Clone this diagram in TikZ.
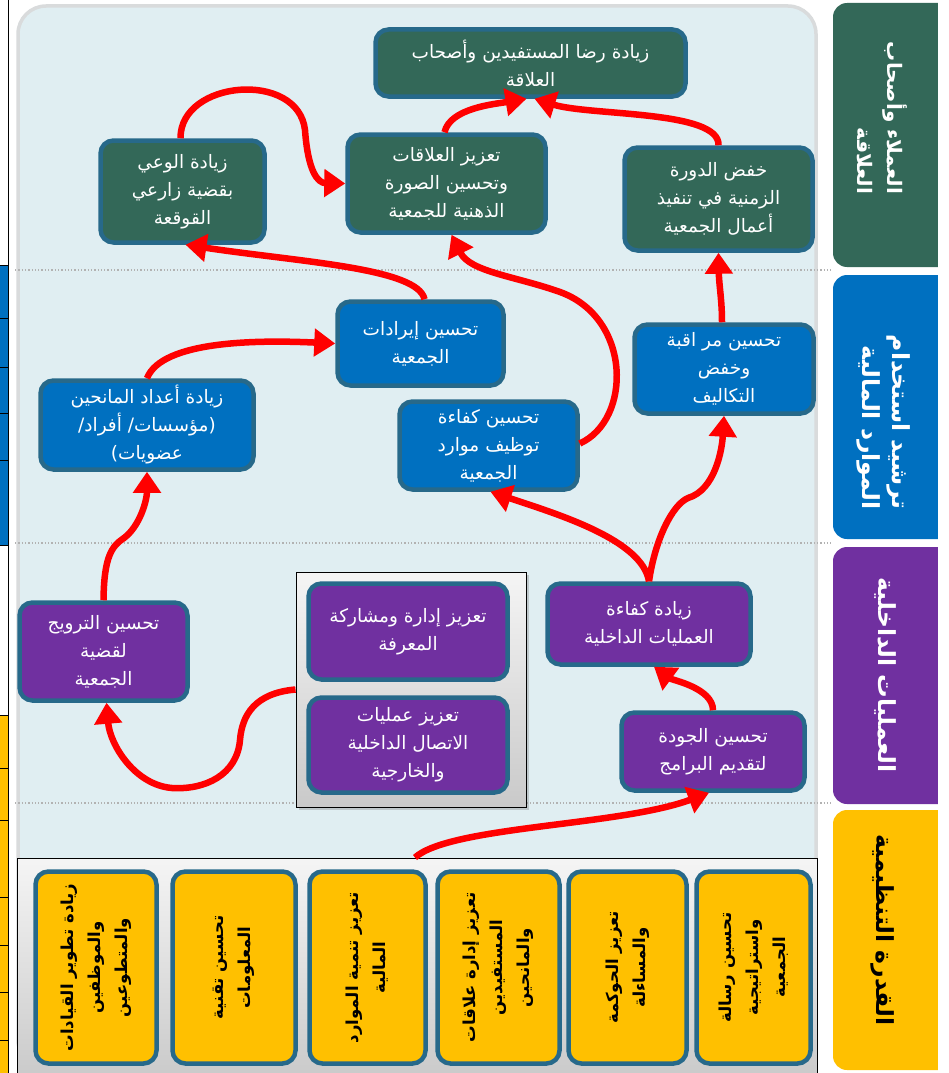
\documentclass[tikz,border=0pt]{standalone}
\usepackage{fontspec}
\usetikzlibrary{arrows.meta,shadows}
\TeXXeTstate=1
\newfontfamily\ar[Script=Arabic]{DejaVu Sans}
\newcommand\AR[1]{\beginR #1\endR}

\definecolor{grn}{RGB}{51,104,88}
\definecolor{blu}{RGB}{0,112,192}
\definecolor{prp}{RGB}{112,48,160}
\definecolor{ylw}{RGB}{255,192,0}
\definecolor{edgec}{RGB}{39,105,138}
\definecolor{panel}{RGB}{224,238,242}
\definecolor{panelb}{RGB}{217,219,220}
\definecolor{flowred}{RGB}{255,0,0}

\begin{document}
\begin{tikzpicture}[x=1pt,y=-1pt,
  tbox/.style={draw=edgec, line width=4.5pt, rounded corners=13pt, text=white,
    align=center, inner sep=2pt, font=\ar\fontsize{18.5}{28}\selectfont},
  gbox/.style={tbox, fill=grn},
  bbox/.style={tbox, fill=blu},
  pbox/.style={tbox, fill=prp},
  ybox/.style={tbox, fill=ylw, text=black, rotate=90,
    font=\ar\bfseries\fontsize{16.5}{27}\selectfont},
  holder/.style={draw=black, line width=1pt, top color=gray!8, bottom color=gray!42, inner sep=0pt},
  flow/.style={draw=flowred, line width=6.5pt, -{Triangle[length=21pt,width=27pt]}},
  bandtxt/.style={text=white, align=right, rotate=-90,
    font=\ar\bfseries\fontsize{23.5}{30}\selectfont},
  sep/.style={draw=gray!60, dotted, line width=1.3pt}]

\useasboundingbox (0,0) rectangle (948,1073);
\fill[white] (0,0) rectangle (948,1073);

% cut-off table on the far left
\draw[black, line width=1pt] (8,0) -- (8,265);
\fill[blu] (0,265) rectangle (8,545);
\fill[ylw] (0,715) rectangle (8,1073);
\draw[black, line width=1pt] (8,265) -- (8,1073);
\foreach \yy in {265,318,367,413,460,545,715,768,820,897,945,992,1040}
  \draw[black, line width=1pt] (0,\yy) -- (8,\yy);

% main panel
\draw[fill=panel, draw=panelb, line width=3.5pt, rounded corners=28pt] (18,6) rectangle (816,1068);

% perspective separators
\draw[sep] (15,270) -- (832,270);
\draw[sep] (15,543) -- (832,543);
\draw[sep] (15,803) -- (832,803);

% perspective bands on the right
\fill[grn, rounded corners=14pt] (833,3) rectangle (960,267);
\fill[blu, rounded corners=14pt] (833,275) rectangle (960,539);
\fill[prp, rounded corners=14pt] (833,547) rectangle (960,804);
\fill[ylw, rounded corners=14pt] (833,810) rectangle (960,1070);
\fill[white] (938,0) rectangle (960,1073);

\node[bandtxt, font=\ar\bfseries\fontsize{20}{30}\selectfont] (t1) at (882,118) {\AR{العملاء وأصحاب}\\\AR{العلاقة}};
\node[bandtxt] (t2) at (884,422) {\AR{ترشيد استخدام}\\\AR{الموارد المالية}};
\node[bandtxt] (t3) at (885,675) {\AR{العمليات الداخلية}};
\node[bandtxt, text=black] (t4) at (883,930) {\AR{القدرة التنظيمية}};

% customers and stakeholders
\node[gbox, minimum width=310pt, minimum height=67pt] (g1) at (530.5,63) {\AR{زيادة رضا المستفيدين وأصحاب}\\\AR{العلاقة}};
\node[gbox, minimum width=164pt, minimum height=102pt] (g2) at (182.5,191.5) {\AR{زيادة الوعي}\\\AR{بقضية زارعي}\\\AR{القوقعة}};
\node[gbox, minimum width=198pt, minimum height=98pt] (g3) at (446.5,183.5) {\AR{تعزيز العلاقات}\\\AR{وتحسين الصورة}\\\AR{الذهنية للجمعية}};
\node[gbox, minimum width=188pt, minimum height=103pt] (g4) at (718.5,199) {\AR{خفض الدورة}\\\AR{الزمنية في تنفيذ}\\\AR{أعمال الجمعية}};

% financial resources
\node[bbox, minimum width=166pt, minimum height=84pt] (b1) at (420.5,343.5) {\AR{تحسين إيرادات}\\\AR{الجمعية}};
\node[bbox, minimum width=213pt, minimum height=89pt] (b2) at (147,425) {\AR{زيادة أعداد المانحين}\\\AR{(مؤسسات/ أفراد/}\\\AR{عضويات)}};
\node[bbox, minimum width=178pt, minimum height=88pt] (b3) at (488.5,445.5) {\AR{تحسين كفاءة}\\\AR{توظيف موارد}\\\AR{الجمعية}};
\node[bbox, minimum width=179pt, minimum height=89pt] (b4) at (724,369) {\AR{تحسين مر اقبة}\\\AR{وخفض}\\\AR{التكاليف}};

% internal processes
\node[holder, drop shadow={opacity=0.35, shadow xshift=3pt, shadow yshift=-3pt},
  minimum width=230pt, minimum height=235pt] (grp) at (411,689.5) {};
\node[pbox, minimum width=199pt, minimum height=96pt] (k1) at (408,631.5) {\AR{تعزيز إدارة ومشاركة}\\\AR{المعرفة}};
\node[pbox, minimum width=199pt, minimum height=95pt] (k2) at (408,745) {\AR{تعزيز عمليات}\\\AR{الاتصال الداخلية}\\\AR{والخارجية}};
\node[pbox, minimum width=168pt, minimum height=98pt] (pr) at (103.5,651.5) {\AR{تحسين الترويج}\\\AR{لقضية}\\\AR{الجمعية}};
\node[pbox, minimum width=203pt, minimum height=81pt] (p1) at (649,624) {\AR{زيادة كفاءة}\\\AR{العمليات الداخلية}};
\node[pbox, minimum width=183pt, minimum height=78pt] (p2) at (713,751.5) {\AR{تحسين الجودة}\\\AR{لتقديم البرامج}};

% organisational capacity
\node[holder, minimum width=800pt, minimum height=222pt] (base) at (417,969) {};
\node[ybox, minimum width=192pt, minimum height=121pt] (y1) at (96,967.5) {\AR{زيادة تطوير القيادات}\\\AR{والموظفين}\\\AR{والمتطوعين}};
\node[ybox, minimum width=192pt, minimum height=123pt] (y2) at (234,967.5) {\AR{تحسين تقنية}\\\AR{المعلومات}};
\node[ybox, minimum width=192pt, minimum height=116pt] (y3) at (367.5,967.5) {\AR{تعزيز تنمية الموارد}\\\AR{المالية}};
\node[ybox, minimum width=192pt, minimum height=122pt] (y4) at (498.5,967.5) {\AR{تعزيز إدارة علاقات}\\\AR{المستفيدين}\\\AR{والمانحين}};
\node[ybox, minimum width=192pt, minimum height=118pt] (y5) at (627.5,967.5) {\AR{تعزيز الحوكمة}\\\AR{والمساءلة}};
\node[ybox, minimum width=192pt, minimum height=114pt] (y6) at (753.5,967.5) {\AR{تحسين رسالة}\\\AR{واستراتيجية}\\\AR{الجمعية}};

% cause-and-effect links
\draw[flow] ([xshift=-2pt]g2.north) .. controls (180,80) and (298,70) .. (305,130)
  .. controls (308,172) and (318,183) .. (g3.west);
\draw[flow] ([xshift=-2pt]g3.north) .. controls (450,108) and (495,104) .. ([xshift=-4pt]g1.south);
\draw[flow] (g4.north) .. controls (720,110) and (590,116) .. ([xshift=4pt]g1.south);
\draw[flow] ([xshift=-2pt]b4.north) .. controls (722,300) and (719,285) .. (g4.south);
\draw[flow] ([xshift=4pt]b1.north) .. controls (418,268) and (300,262) .. ([xshift=3pt]g2.south);
\draw[flow] ([yshift=2pt]b3.east) .. controls (632,420) and (632,318) .. (560,292)
  .. controls (515,276) and (470,272) .. ([xshift=5pt]g3.south);
\draw[flow] (b2.north) .. controls (162,340) and (260,340) .. (b1.west);
\draw[flow] (pr.north) .. controls (104,556) and (112,546) .. (124,538)
  .. controls (140,526) and (147,500) .. (b2.south);
\draw[flow] (grp.west) .. controls (255,693) and (242,715) .. (240,740)
  .. controls (237,775) and (205,790) .. (172,788)
  .. controls (135,785) and (110,745) .. ([xshift=3pt]pr.south);
\draw[flow] ([xshift=-2pt]base.north) .. controls (450,826) and (620,826) .. ([xshift=-4pt]p2.south);
\draw[flow] (p2.north) .. controls (713,688) and (672,680) .. ([xshift=5pt]p1.south);
\draw[flow] (p1.north) .. controls (642,540) and (560,515) .. ([xshift=2pt]b3.south);
\draw[flow] (p1.north) .. controls (655,540) and (672,505) .. (688,498)
  .. controls (715,490) and (722,450) .. (b4.south);
\end{tikzpicture}
\end{document}
